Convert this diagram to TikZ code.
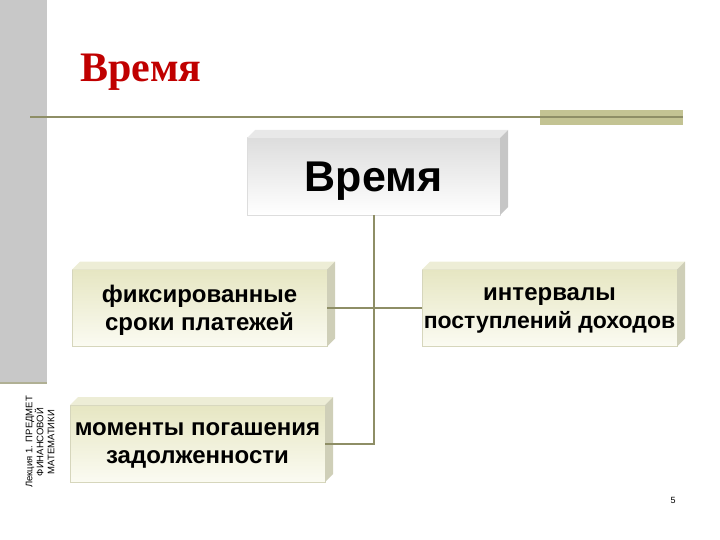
\documentclass[tikz,border=0pt]{standalone}
\usepackage{fontspec}
\setmainfont{Liberation Sans}
\newfontfamily\titlefont{Liberation Serif}
\usetikzlibrary{calc}

\definecolor{rulegreen}{HTML}{8E8E66}
\definecolor{barolive}{HTML}{C3C393}
\definecolor{bargray}{HTML}{C8C8C8}
\definecolor{titlered}{HTML}{C00000}
\definecolor{boxtop}{HTML}{E6E6C2}
\definecolor{boxbot}{HTML}{FBFBF2}
\definecolor{boxedge}{HTML}{D6D6BC}
\definecolor{boxside}{HTML}{CFCFB8}
\definecolor{boxlid}{HTML}{EDEDD6}
\definecolor{greytop}{HTML}{DDDDDD}
\definecolor{greyside}{HTML}{C6C6C6}
\definecolor{greylid}{HTML}{E8E8E8}

\begin{document}
\begin{tikzpicture}[
    x=1pt, y=-1pt,
    every node/.style={inner sep=0pt, outer sep=0pt},
    box/.style={minimum width=255pt, minimum height=77pt, align=center, draw=boxedge, line width=0.6pt,
                text depth=0pt, font=\fontsize{24}{28}\selectfont\bfseries, top color=boxtop, bottom color=boxbot},
    link/.style={draw=rulegreen, line width=2pt}
  ]
  \useasboundingbox (0,0) rectangle (720,540);

  % Slide frame
  \fill[bargray] (0,0) rectangle (47,383);
  \draw[rulegreen!70, line width=1.5pt] (0,383) -- (47,383);
  \fill[barolive] (540,110) rectangle (683,125);
  \draw[rulegreen, line width=2.5pt] (30,117) -- (683,117);

  \node[anchor=base west, text=titlered, font=\titlefont\fontsize{42}{50}\selectfont\bfseries] (title) at (80,82) {Время};

  % Define nodes
  \node[box, minimum width=253pt, top color=greytop, bottom color=white, draw=greytop,
        font=\fontsize{43}{50}\selectfont\bfseries] (time) at (373.5,176.5) {Время};
  \node[box] (fixed) at (199.5,308) {фиксированные\\сроки платежей};
  \node[box] (interval) at (549.5,308) {интервалы\\{\fontsize{23}{28}\selectfont поступлений доходов}};
  \node[box] (debt) at (197.5,443.5) {моменты погашения\\задолженности};

  % 3D faces of the boxes
  \foreach \b/\side/\lid in {time/greyside/greylid, fixed/boxside/boxlid,
                             interval/boxside/boxlid, debt/boxside/boxlid} {
    \fill[\lid] (\b.north west) -- ++(8,-8) -- ($(\b.north east)+(8,-8)$) -- (\b.north east) -- cycle;
    \fill[\side] (\b.north east) -- ++(8,-8) -- ($(\b.south east)+(8,-8)$) -- (\b.south east) -- cycle;
  }

  % Connectors
  \draw[link] (time.south) |- (debt.east);
  \draw[link] (fixed.east) -- (interval.west);

  \node[rotate=90, align=center, font=\fontsize{9.5}{11}\selectfont] (lecture) at (40,442)
       {Лекция 1. ПРЕДМЕТ\\ФИНАНСОВОЙ\\МАТЕМАТИКИ};
  \node[font=\fontsize{9}{11}\selectfont] (page) at (673,500) {5};

\end{tikzpicture}
\end{document}
